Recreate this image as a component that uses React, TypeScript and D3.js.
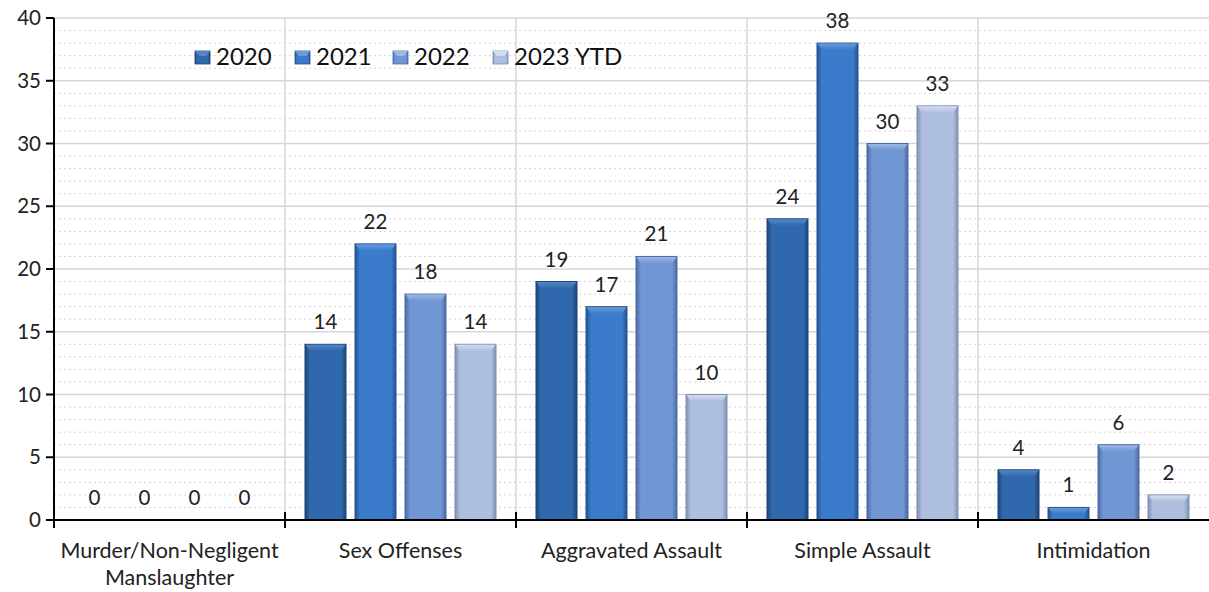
import React from "react";
import * as d3 from "d3";

const categories = ["Murder/Non-Negligent\nManslaughter", "Sex Offenses", "Aggravated Assault", "Simple Assault", "Intimidation"];
const seriesNames = ["2020", "2021", "2022", "2023 YTD"];
const v2020 = [0, 14, 19, 24, 4];
const v2021 = [0, 22, 17, 38, 1];
const v2022 = [0, 18, 21, 30, 6];
const v2023 = [0, 14, 10, 33, 2];
const yTicks = [0, 5, 10, 15, 20, 25, 30, 35, 40];
const seriesColors = [
  { mid: "#3068ad", edge: "#1d4576", top: "#5486c6" },
  { mid: "#3a7bcb", edge: "#24538f", top: "#6a9bdb" },
  { mid: "#7096d3", edge: "#4a6aa3", top: "#9cb7e4" },
  { mid: "#aebedf", edge: "#7f90b5", top: "#d3ddf0" },
];

const W = 1209, H = 592;
const left = 54, right = 1209, top = 18, bottom = 520;
const FONT = "Lato, 'Open Sans', sans-serif";

export default function App() {
  const values = [v2020, v2021, v2022, v2023];
  const x0 = d3.scaleBand<number>().domain(categories.map((_, i) => i)).range([left, right]).padding(0);
  const x1 = d3.scaleBand<number>().domain(seriesNames.map((_, i) => i)).range([20, x0.bandwidth() - 20]).paddingInner(0.18).paddingOuter(0);
  const y = d3.scaleLinear().domain([0, 40]).range([bottom, top]);
  const minor = d3.range(0, 41, 1).filter((v) => v % 5 !== 0);

  const bars: React.ReactNode[] = [];
  const labels: React.ReactNode[] = [];
  categories.forEach((_, ci) => {
    values.forEach((vals, si) => {
      const v = vals[ci];
      const bx = (x0(ci) as number) + (x1(si) as number);
      const bw = x1.bandwidth();
      const by = y(v);
      const bh = bottom - by;
      if (bh > 0) {
        const bev = Math.min(7, bh / 2);
        const side = Math.min(5, bw / 4);
        bars.push(
          <g key={`b${ci}-${si}`}>
            <rect x={bx} y={by} width={bw} height={bh} fill={`url(#g${si})`} stroke={seriesColors[si].edge} strokeWidth={1} />
            <polygon
              points={`${bx + 0.5},${by + 0.5} ${bx + bw - 0.5},${by + 0.5} ${bx + bw - side},${by + bev} ${bx + side},${by + bev}`}
              fill={`url(#t${si})`}
            />
          </g>
        );
      }
      labels.push(
        <text key={`l${ci}-${si}`} x={bx + bw / 2} y={by - 15} textAnchor="middle" fontSize={20.5} fill="#222" fontFamily={FONT}>
          {v}
        </text>
      );
    });
  });

  const legendX = [195, 295, 393, 493];

  return (
    <svg width={W} height={H} style={{ position: "absolute", left: 0, top: 0, background: "#fff" }}>
      <defs>
        {seriesColors.map((c, i) => (
          <React.Fragment key={i}>
            <linearGradient id={`g${i}`} x1="0" x2="1" y1="0" y2="0">
              <stop offset="0" stopColor={c.edge} />
              <stop offset="0.12" stopColor={c.mid} />
              <stop offset="0.88" stopColor={c.mid} />
              <stop offset="1" stopColor={c.edge} />
            </linearGradient>
            <linearGradient id={`t${i}`} x1="0" x2="0" y1="0" y2="1">
              <stop offset="0" stopColor={c.top} />
              <stop offset="1" stopColor={c.mid} />
            </linearGradient>
          </React.Fragment>
        ))}
      </defs>
      {minor.map((v) => (
        <line key={`m${v}`} x1={left} x2={right} y1={y(v)} y2={y(v)} stroke="#d4d4d4" strokeWidth={1} strokeDasharray="2,3" />
      ))}
      {yTicks.filter((v) => v > 0).map((v) => (
        <line key={`M${v}`} x1={left} x2={right} y1={y(v)} y2={y(v)} stroke="#d6d6d6" strokeWidth={1.5} />
      ))}
      {categories.slice(1).map((_, i) => (
        <line key={`v${i}`} x1={x0(i + 1) as number} x2={x0(i + 1) as number} y1={top} y2={bottom} stroke="#d6d6d6" strokeWidth={1.5} />
      ))}
      {seriesNames.map((s, i) => (
        <g key={`lg${i}`}>
          <rect x={legendX[i]} y={51} width={15} height={13} fill={`url(#g${i})`} stroke={seriesColors[i].edge} strokeWidth={0.8} />
          <polygon points={`${legendX[i]},${51} ${legendX[i] + 15},${51} ${legendX[i] + 11},${56} ${legendX[i] + 4},${56}`} fill={seriesColors[i].top} />
          <text x={legendX[i] + 21} y={65} fontSize={24} fill="#111" fontFamily={FONT}>{s}</text>
        </g>
      ))}
      {bars}
      {labels}
      <line x1={left} x2={left} y1={top} y2={bottom} stroke="#000" strokeWidth={2} />
      <line x1={left} x2={right} y1={bottom} y2={bottom} stroke="#000" strokeWidth={2} />
      {yTicks.map((v) => (
        <g key={`yt${v}`}>
          <line x1={left - 8} x2={left} y1={y(v)} y2={y(v)} stroke="#000" strokeWidth={2} />
          <text x={41} y={y(v) + 7} textAnchor="end" fontSize={20.5} fill="#222" fontFamily={FONT}>{v}</text>
        </g>
      ))}
      {categories.map((_, i) => (
        <line key={`xt${i}`} x1={x0(i) as number} x2={x0(i) as number} y1={bottom - 8} y2={bottom + 8} stroke="#000" strokeWidth={2} />
      ))}
      {categories.map((c, i) => {
        const lines = c.split("\n");
        const cx = (x0(i) as number) + x0.bandwidth() / 2;
        return (
          <text key={`cl${i}`} x={cx} y={558} textAnchor="middle" fontSize={21.5} fill="#222" fontFamily={FONT}>
            {lines.map((ln, k) => (
              <tspan key={k} x={cx} dy={k === 0 ? 0 : 27}>{ln}</tspan>
            ))}
          </text>
        );
      })}
    </svg>
  );
}
